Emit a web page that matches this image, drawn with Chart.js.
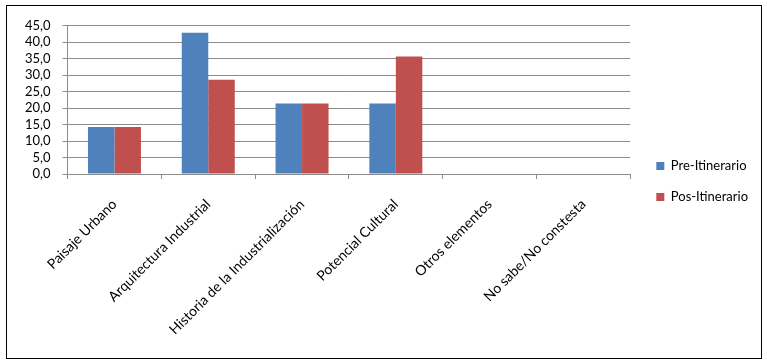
<!DOCTYPE html>
<html>
<head>
<meta charset="utf-8">
<script src="https://cdn.jsdelivr.net/npm/chart.js@4"></script>
<style>
  body { margin: 0; background: #fff; }
  #marco { position: absolute; left: 6px; top: 5px; width: 754px; height: 352px; border: 1px solid #000; }
  #grafico { display: block; }
</style>
</head>
<body>
<div id="marco"><canvas id="grafico" width="754" height="352"></canvas></div>
<script>
"use strict"

const categorias = ['Paisaje Urbano', 'Arquitectura Industrial', 'Historia de la Industrialización', 'Potencial Cultural', 'Otros elementos', 'No sabe/No constesta'];
const preItinerario = [14.3, 42.9, 21.4, 21.4, 0, 0];
const posItinerario = [14.3, 28.6, 21.4, 35.7, 0, 0];
const ticksY = [0, 5, 10, 15, 20, 25, 30, 35, 40, 45];

const fuente = { family: 'Lato', size: 13 };

document.addEventListener('DOMContentLoaded', e => {
    const ctx = document.getElementById('grafico');

    new Chart(ctx, {
        type: 'bar',
        data: {
            labels: categorias,
            datasets: [
                { label: 'Pre-Itinerario', data: preItinerario, backgroundColor: '#4F81BD' },
                { label: 'Pos-Itinerario', data: posItinerario, backgroundColor: '#C0504D' }
            ]
        },
        options: {
            responsive: false,
            animation: false,
            datasets: { bar: { categoryPercentage: 0.565, barPercentage: 1 } },
            layout: { padding: { top: 12, left: 6, right: 3, bottom: 13 } },
            plugins: {
                tooltip: { enabled: false },
                legend: {
                    position: 'right',
                    labels: { boxWidth: 8, boxHeight: 8, padding: 18, color: '#000', font: fuente }
                }
            },
            scales: {
                x: {
                    afterFit: axis => { axis.height = 171; },
                    grid: { offset: true, drawOnChartArea: false, drawTicks: true, tickLength: 5, color: '#8c8c8c' },
                    border: { color: '#8c8c8c' },
                    ticks: { minRotation: 45, maxRotation: 45, color: '#000', font: { family: 'Lato', size: 14 }, padding: 17 }
                },
                y: {
                    min: 0,
                    max: 45,
                    afterBuildTicks: axis => { axis.ticks = ticksY.map(v => ({ value: v })); },
                    grid: { color: '#8c8c8c', tickLength: 5 },
                    border: { color: '#8c8c8c' },
                    ticks: {
                        autoSkip: false,
                        color: '#000',
                        font: fuente,
                        padding: 12,
                        callback: v => v.toFixed(1).replace('.', ',')
                    }
                },
                // eje vacio para separar la leyenda del area de barras
                hueco: {
                    position: 'right',
                    afterFit: axis => { axis.width = 8; },
                    grid: { display: false },
                    border: { display: false },
                    ticks: { display: false }
                }
            }
        }
    });
});
</script>
</body>
</html>
